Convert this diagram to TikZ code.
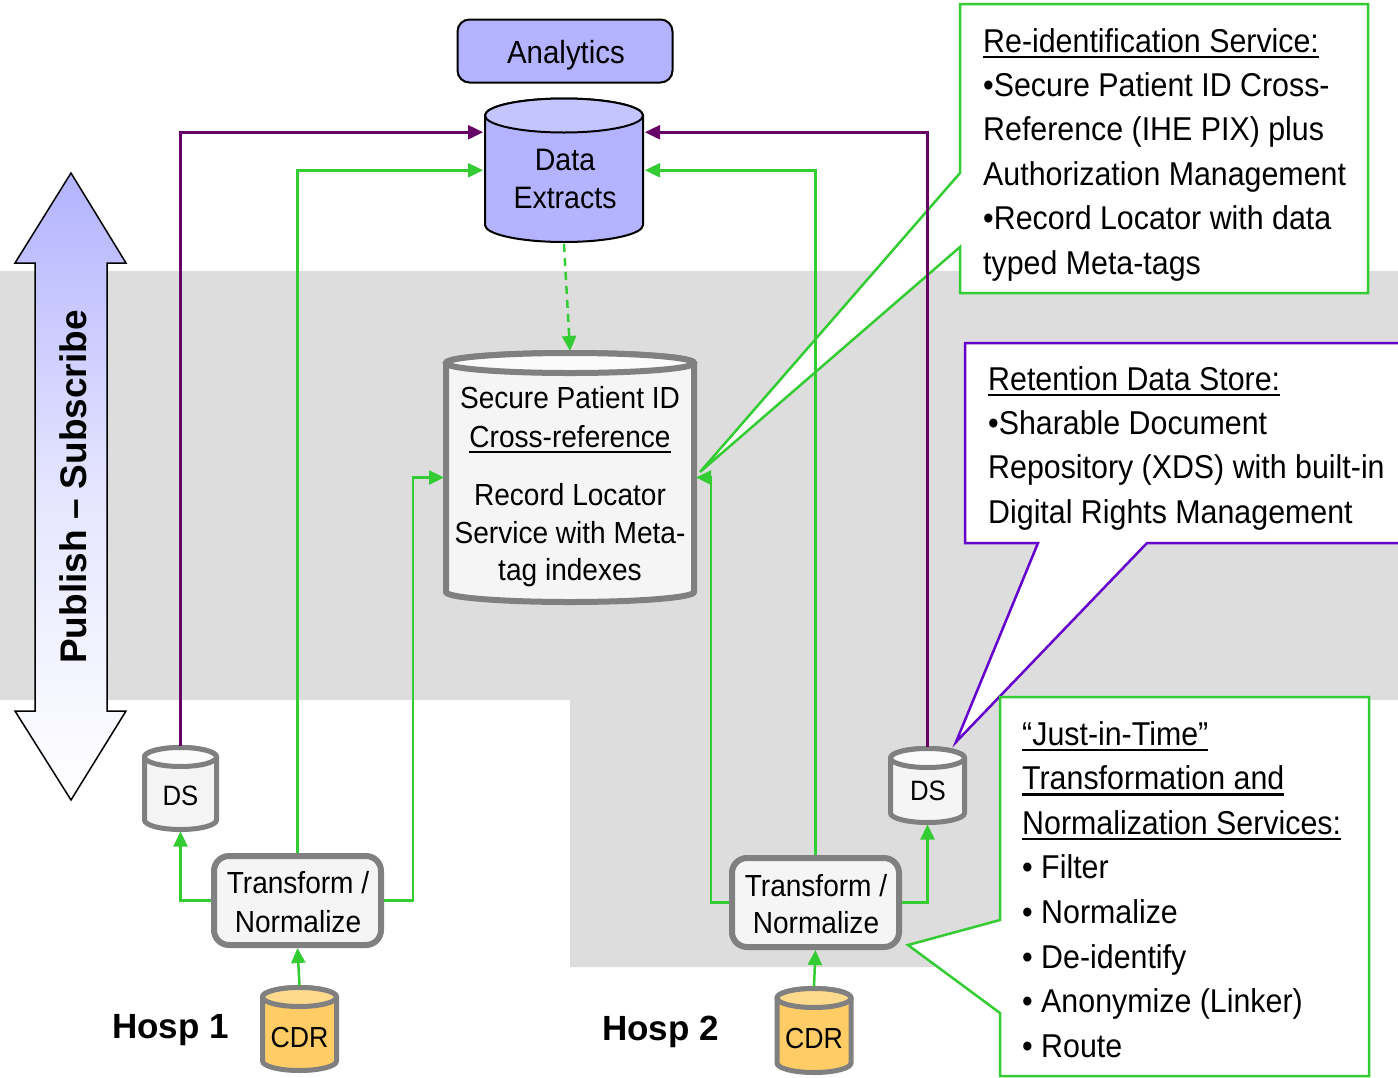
\documentclass[tikz,border=0pt]{standalone}
\usepackage{fontspec}
\setmainfont{Liberation Sans}[FakeStretch=0.92]
\newfontfamily\boldfont{Liberation Sans}
\usetikzlibrary{arrows.meta}
\definecolor{lav}{HTML}{B3B3FF}
\definecolor{lavtop}{HTML}{C4C4FF}
\definecolor{bggray}{HTML}{DDDDDD}
\definecolor{boxgray}{HTML}{808080}
\definecolor{boxfill}{HTML}{F5F5F5}
\definecolor{gline}{HTML}{33CC33}
\definecolor{pline}{HTML}{660066}
\definecolor{vline}{HTML}{6600CC}
\definecolor{cdrfill}{HTML}{FFCC66}
\definecolor{cdrtop}{HTML}{FFD98C}
\newcommand\myul[1]{\setbox0\hbox{#1}\rlap{\rule[-6pt]{\wd0}{2.5pt}}\box0}
\newcommand\dbcyl[8]{%
  \path[#7] ({#2-#5},#3) -- ({#2-#5},#4) arc[start angle=180,end angle=360,x radius=#5pt,y radius=#6pt] -- ({#2+#5},#3) arc[start angle=0,end angle=180,x radius=#5pt,y radius=#6pt] -- cycle;
  \path[#7,fill=#8] (#2,#3) ellipse[x radius=#5pt,y radius=#6pt];
  \node[inner sep=0,outer sep=0,minimum width={2*#5+4},minimum height={#4-#3+2*#6+4}] (#1) at (#2,{(#3+#4)/2}) {};
}
\begin{document}
\begin{tikzpicture}[x=1pt,y=-1pt,
  conn/.style={line width=2.5pt,-{Triangle[length=15pt,width=14pt]}},
  garrow/.style={conn,draw=gline},
  parrow/.style={conn,draw=pline},
  bluecyl/.style={draw=black,line width=2pt,fill=lav},
  graycyl/.style={draw=boxgray,line width=5pt,fill=boxfill},
  seccyl/.style={draw=boxgray,line width=6pt,fill=boxfill},
  orcyl/.style={draw=boxgray,line width=5pt,fill=cdrfill},
  tnbox/.style={draw=boxgray,line width=6pt,fill=boxfill,rounded corners=15pt,minimum width=167pt,minimum height=89pt,inner sep=0},
  lbl/.style={inner sep=0,anchor=base,font=\fontsize{30.5}{36}\selectfont},
  ctext/.style={inner sep=0,anchor=base west,font=\fontsize{33}{44}\selectfont},
  hosp/.style={inner sep=0,anchor=base west,font=\boldfont\bfseries\fontsize{35}{40}\selectfont},
  gcall/.style={draw=gline,line width=2.5pt,fill=white,line join=miter},
  vcall/.style={draw=vline,line width=2.5pt,fill=white,line join=miter}]
\useasboundingbox (0,0) rectangle (1398,1077);
% background band
\fill[bggray] (0,271) -- (1398,271) -- (1398,700) -- (1005,700) -- (1005,967) -- (570,967) -- (570,700) -- (0,700) -- cycle;
% publish-subscribe arrow
\path[draw=black,line width=1.5pt,top color=lav,bottom color=white,middle color=lav!35!white]
  (71,173) -- (126,263) -- (107,263) -- (107,711) -- (126,711) -- (71,800) -- (15,711) -- (35,711) -- (35,263) -- (15,263) -- cycle;
\node[rotate=90,inner sep=0,font=\boldfont\bfseries\fontsize{37}{40}\selectfont] (ps) at (73,487) {Publish – Subscribe};
% callouts
\path[gcall] (960,4) -- (1368,4) -- (1368,293) -- (960,293) -- (960,247) -- (700,472) -- (960,173) -- cycle;
\path[vcall] (965,343) -- (1402,343) -- (1402,543) -- (1147,543) -- (956,742) -- (1038,543) -- (965,543) -- cycle;
\path[gcall] (1000,697) -- (1369,697) -- (1369,1076) -- (1000,1076) -- (1000,1013) -- (908,945) -- (1000,920) -- cycle;
\foreach \t [count=\i] in {{\myul{Re-identification Service:}},{•Secure Patient ID Cross-},{Reference (IHE PIX) plus},{Authorization Management},{•Record Locator with data},{typed Meta-tags}}
  \node[ctext] (ca\i) at (983,{52+44.4*(\i-1)}) {\t};
\foreach \t [count=\i] in {{\myul{Retention Data Store:}},{•Sharable Document},{Repository (XDS) with built-in},{Digital Rights Management}}
  \node[ctext] (cb\i) at (988,{390+44.4*(\i-1)}) {\t};
\foreach \t [count=\i] in {{\myul{“Just-in-Time”}},{\myul{Transformation and}},{\myul{Normalization Services:}},{• Filter},{• Normalize},{• De-identify},{• Anonymize (Linker)},{• Route}}
  \node[ctext] (cc\i) at (1022,{745+44.6*(\i-1)}) {\t};
% shapes (nodes for anchors)
\node[tnbox] (tn1) at (297.5,900.5) {};
\node[tnbox] (tn2) at (815.5,902.5) {};
\node[draw=black,line width=2pt,fill=lav,rounded corners=12pt,minimum width=215pt,minimum height=63pt,inner sep=0] (an) at (565,51) {};
\dbcyl{dx}{564}{115.5}{225}{79}{17}{bluecyl}{lavtop}
\dbcyl{sec}{570}{363}{592}{124}{10}{seccyl}{boxfill!40!white}
\dbcyl{ds1}{180.5}{757}{820}{36}{9.5}{graycyl}{boxfill!40!white}
\dbcyl{ds2}{927.5}{758}{813}{37}{9.5}{graycyl}{boxfill!40!white}
\dbcyl{cdr1}{299.5}{997}{1061}{37}{9.5}{orcyl}{cdrtop}
\dbcyl{cdr2}{814}{998}{1063}{37}{9.5}{orcyl}{cdrtop}
% connectors
\draw[parrow] (ds1.north) |- ([yshift=38pt]dx.west);
\draw[parrow] (ds2.north) |- ([yshift=38pt]dx.east);
\draw[garrow] (tn1.north) |- (dx.west);
\draw[garrow] (tn2.north) |- (dx.east);
\draw[garrow] (tn1.west) -| (ds1.south);
\draw[garrow] (tn1.east) -- ++(29,0) |- (sec.west);
\draw[garrow] (tn2.west) -- ++(-18,0) |- (sec.east);
\draw[garrow] (tn2.east) -| (ds2.south);
\draw[garrow] (cdr1.north) -- (tn1.south);
\draw[garrow] (cdr2.north) -- (tn2.south);
\draw[garrow,dash pattern=on 8pt off 6pt] (dx.south) -- (sec.north);
% texts
\node[lbl,font=\fontsize{32}{36}\selectfont] (ant) at (566,63) {Analytics};
\node[lbl,font=\fontsize{31}{36}\selectfont] (dxa) at (565,170) {Data};
\node[lbl,font=\fontsize{31}{36}\selectfont] (dxb) at (565,208) {Extracts};
\node[lbl] (sa) at (570,408) {Secure Patient ID};
\node[lbl] (sb) at (570,447) {\myul{Cross-reference}};
\node[lbl] (sc) at (570,505) {Record Locator};
\node[lbl] (sd) at (570,543) {Service with Meta-};
\node[lbl] (se) at (570,580) {tag indexes};
\node[lbl,font=\fontsize{28}{34}\selectfont] (ds1t) at (180.5,805) {DS};
\node[lbl,font=\fontsize{28}{34}\selectfont] (ds2t) at (928,800) {DS};
\node[lbl,font=\fontsize{29}{34}\selectfont] (cdr1t) at (299.5,1047) {CDR};
\node[lbl,font=\fontsize{29}{34}\selectfont] (cdr2t) at (814,1048) {CDR};
\node[lbl] (tn1a) at (298,893) {Transform /};
\node[lbl] (tn1b) at (298,932) {Normalize};
\node[lbl] (tn2a) at (816,896) {Transform /};
\node[lbl] (tn2b) at (816,933) {Normalize};
\node[hosp] (h1) at (112,1038) {Hosp 1};
\node[hosp] (h2) at (602,1040) {Hosp 2};
\end{tikzpicture}
\end{document}
